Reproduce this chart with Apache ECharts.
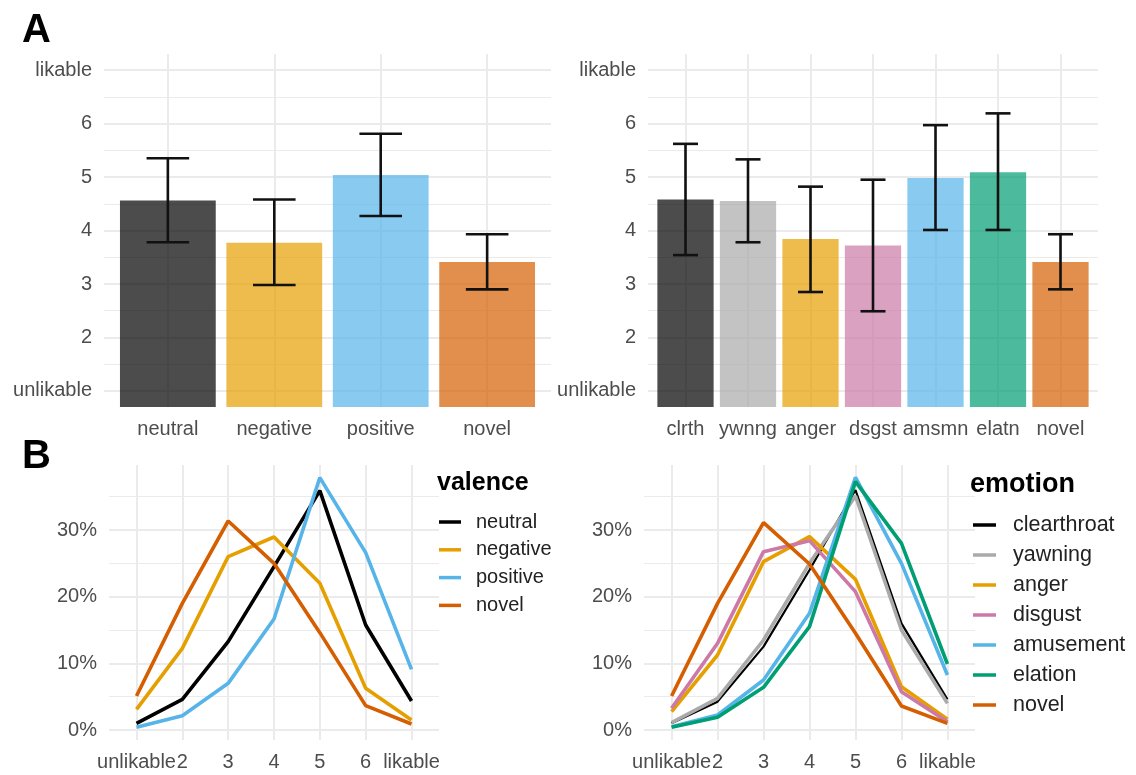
<!DOCTYPE html>
<html><head><meta charset="utf-8">
<script src="https://cdn.jsdelivr.net/npm/echarts@6/dist/echarts.min.js"></script>
<style>html,body{margin:0;padding:0;background:#fff}#c{width:1136px;height:775px}</style>
</head><body><div id="c"></div>
<script>
// ---- data ----
const valenceCats = ['neutral', 'negative', 'positive', 'novel'];
const valenceMean = [4.56, 3.77, 5.04, 3.41];
const valenceLo   = [3.78, 2.98, 4.27, 2.90];
const valenceHi   = [5.35, 4.58, 5.81, 3.93];

const emotionCats = ['clrth', 'ywnng', 'anger', 'dsgst', 'amsmn', 'elatn', 'novel'];
const emotionMean = [4.58, 4.55, 3.84, 3.72, 4.98, 5.09, 3.41];
const emotionLo   = [3.54, 3.78, 2.85, 2.49, 4.01, 4.01, 2.90];
const emotionHi   = [5.62, 5.33, 4.82, 4.95, 5.97, 6.19, 3.93];

const ratingTickValues = [1, 2, 3, 4, 5, 6, 7];
const ratingTickLabels = ['unlikable', '2', '3', '4', '5', '6', 'likable'];
const ratingMinorValues = [1.5, 2.5, 3.5, 4.5, 5.5, 6.5];

const pctTickValues = [0, 10, 20, 30];
const pctTickLabels = ['0%', '10%', '20%', '30%'];
const pctMinorValues = [5, 15, 25, 35];

const valenceLineNames = ['neutral', 'negative', 'positive', 'novel'];
const valenceLines = [
  [1.0, 4.6, 13.25, 24.5, 35.9, 15.75, 4.35],
  [3.1, 12.25, 26.0, 28.95, 22.0, 6.25, 1.5],
  [0.4, 2.15, 7.0, 16.65, 37.85, 26.6, 9.1],
  [5.1, 19.0, 31.35, 25.0, 14.6, 3.65, 0.9]
];
const emotionLineNames = ['clearthroat', 'yawning', 'anger', 'disgust', 'amusement', 'elation', 'novel'];
const emotionLines = [
  [1.0, 4.25, 12.5, 24.0, 36.0, 16.0, 4.6],
  [1.1, 4.75, 13.5, 25.0, 35.1, 15.0, 4.0],
  [2.75, 11.25, 25.25, 29.0, 22.6, 6.5, 1.6],
  [3.25, 13.0, 26.75, 28.4, 20.75, 5.75, 1.25],
  [0.5, 2.25, 7.5, 17.5, 37.9, 25.0, 8.25],
  [0.4, 1.9, 6.4, 15.5, 37.25, 28.0, 9.9],
  [5.1, 19.0, 31.1, 24.9, 14.5, 3.6, 1.0]
];

// ---- styles ----
const valenceColors = ['#000000', '#E69F00', '#56B4E9', '#D55E00'];
const emotionColors = ['#000000', '#AAAAAA', '#E69F00', '#CC79A7', '#56B4E9', '#009E73', '#D55E00'];
const FONT = '"Liberation Sans", Arial, Helvetica, sans-serif';
const GRID_COL = '#ebebeb';
const LABEL_COL = '#4d4d4d';
const RATING_MIN = 0.7, RATING_MAX = 7.3;
const PCT_MIN = -1.5, PCT_MAX = 39.75;

const chart = echarts.init(document.getElementById('c'));

const grids = [
  {left: 104, top: 54, width: 447, height: 353},
  {left: 648, top: 54, width: 450, height: 353},
  {left: 109, top: 465, width: 330, height: 275},
  {left: 644, top: 465, width: 331, height: 275}
];

function xAxis(gi, cats) {
  const idx = cats.map((_, i) => i);
  return {
    type: 'value', gridIndex: gi, min: -0.6, max: cats.length - 1 + 0.6,
    axisLine: {show: false},
    axisTick: {show: false, customValues: idx},
    axisLabel: {customValues: idx, formatter: v => cats[Math.round(v)],
      color: LABEL_COL, fontSize: 20, fontFamily: FONT, margin: 12},
    splitLine: {show: true, lineStyle: {color: GRID_COL, width: 2}}
  };
}
function yAxes(gi, min, max, vals, labels, minor) {
  return [
    {
      type: 'value', gridIndex: gi, min: min, max: max, position: 'left',
      axisLine: {show: false},
      axisTick: {show: false, customValues: vals},
      axisLabel: {customValues: vals, formatter: v => labels[vals.indexOf(v)],
        color: LABEL_COL, fontSize: 20, fontFamily: FONT, margin: 12},
      splitLine: {show: true, lineStyle: {color: GRID_COL, width: 2}}
    },
    {
      type: 'value', gridIndex: gi, min: min, max: max, position: 'right',
      axisLine: {show: false},
      axisTick: {show: false, customValues: minor},
      axisLabel: {show: false, customValues: minor},
      splitLine: {show: true, lineStyle: {color: GRID_COL, width: 1}}
    }
  ];
}

function barSeries(gi, means, colors) {
  return {
    type: 'custom', xAxisIndex: gi, yAxisIndex: gi * 2, z: 2,
    data: means.map((m, i) => [i, m]),
    encode: {x: 0, y: 1},
    renderItem: (params, api) => {
      const x = api.value(0), y = api.value(1);
      const p1 = api.coord([x - 0.45, y]);
      const p2 = api.coord([x + 0.45, RATING_MIN]);
      return {type: 'rect', shape: {x: p1[0], y: p1[1], width: p2[0] - p1[0], height: p2[1] - p1[1]},
        style: {fill: colors[params.dataIndex], opacity: 0.7}};
    }
  };
}
function errSeries(gi, lo, hi) {
  return {
    type: 'custom', xAxisIndex: gi, yAxisIndex: gi * 2, z: 3,
    data: lo.map((l, i) => [i, l, hi[i]]),
    encode: {x: 0, y: [1, 2]},
    renderItem: (params, api) => {
      const x = api.value(0);
      const top = api.coord([x, api.value(2)]);
      const bot = api.coord([x, api.value(1)]);
      const hw = api.size([0.2, 0])[0];
      const st = {stroke: '#111', lineWidth: 2.6};
      return {type: 'group', children: [
        {type: 'line', shape: {x1: top[0], y1: top[1], x2: bot[0], y2: bot[1]}, style: st},
        {type: 'line', shape: {x1: top[0] - hw, y1: top[1], x2: top[0] + hw, y2: top[1]}, style: st},
        {type: 'line', shape: {x1: bot[0] - hw, y1: bot[1], x2: bot[0] + hw, y2: bot[1]}, style: st}
      ]};
    }
  };
}
function lineSeries(gi, names, lines, colors, widths) {
  return names.map((n, k) => ({
    type: 'line', name: n, xAxisIndex: gi, yAxisIndex: gi * 2,
    data: lines[k].map((v, i) => [i, v]),
    showSymbol: false, symbol: 'none', color: colors[k],
    itemStyle: {color: colors[k]},
    lineStyle: {color: colors[k], width: widths ? widths[k] : 3.6},
    emphasis: {disabled: true}, z: 3 + k * 0.01
  }));
}

const option = {
  animation: false,
  backgroundColor: '#fff',
  grid: grids,
  xAxis: [xAxis(0, valenceCats), xAxis(1, emotionCats), xAxis(2, ratingTickLabels), xAxis(3, ratingTickLabels)],
  yAxis: [].concat(
    yAxes(0, RATING_MIN, RATING_MAX, ratingTickValues, ratingTickLabels, ratingMinorValues),
    yAxes(1, RATING_MIN, RATING_MAX, ratingTickValues, ratingTickLabels, ratingMinorValues),
    yAxes(2, PCT_MIN, PCT_MAX, pctTickValues, pctTickLabels, pctMinorValues),
    yAxes(3, PCT_MIN, PCT_MAX, pctTickValues, pctTickLabels, pctMinorValues)
  ),
  legend: [
    {data: valenceLineNames, orient: 'vertical', left: 439, top: 512, padding: 0,
      itemWidth: 22, itemHeight: 3.5, itemGap: 7.8, icon: 'rect', selectedMode: false,
      textStyle: {fontSize: 20, fontFamily: FONT, color: '#222', lineHeight: 20, padding: [0, 0, 0, 10]}},
    {data: emotionLineNames, orient: 'vertical', left: 973, top: 514, padding: 0,
      itemWidth: 23, itemHeight: 3.5, itemGap: 8, icon: 'rect', selectedMode: false,
      textStyle: {fontSize: 21.5, fontFamily: FONT, color: '#222', lineHeight: 21.5, padding: [0, 0, 0, 12]}}
  ],
  graphic: [
    {type: 'text', x: 22, y: 31, style: {text: 'A', fontSize: 40, fontWeight: 'bold', fontFamily: FONT, fill: '#000', verticalAlign: 'middle'}},
    {type: 'text', x: 22, y: 457, style: {text: 'B', fontSize: 40, fontWeight: 'bold', fontFamily: FONT, fill: '#000', verticalAlign: 'middle'}},
    {type: 'text', x: 437, y: 483, style: {text: 'valence', fontSize: 25, fontWeight: 'bold', fontFamily: FONT, fill: '#000', verticalAlign: 'middle'}},
    {type: 'text', x: 970, y: 485, style: {text: 'emotion', fontSize: 27, fontWeight: 'bold', fontFamily: FONT, fill: '#000', verticalAlign: 'middle'}}
  ],
  series: [].concat(
    [barSeries(0, valenceMean, valenceColors), errSeries(0, valenceLo, valenceHi)],
    [barSeries(1, emotionMean, emotionColors), errSeries(1, emotionLo, emotionHi)],
    lineSeries(2, valenceLineNames, valenceLines, valenceColors),
    lineSeries(3, emotionLineNames, emotionLines, emotionColors, [2.2, 3.6, 3.6, 3.6, 3.6, 3.6, 3.6])
  )
};
chart.setOption(option);
</script></body></html>
